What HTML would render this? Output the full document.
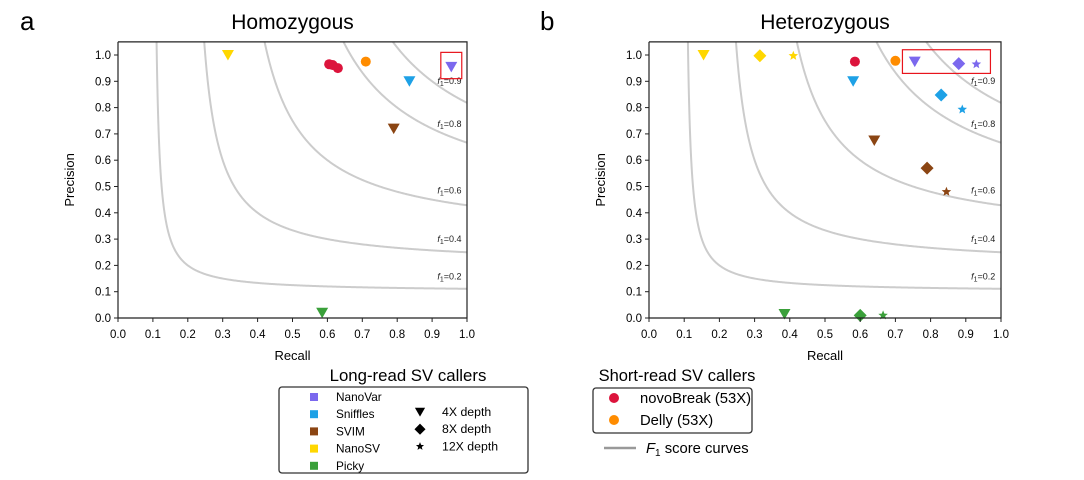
<!DOCTYPE html>
<html><head><meta charset="utf-8"><style>
body{margin:0;background:#fff;}
svg{display:block;font-family:"Liberation Sans",sans-serif;}
</style></head><body>
<svg id="s" width="1084" height="480" viewBox="0 0 1084 480"></svg>
<script>
const f1Levels=[0.2,0.4,0.6,0.8,0.9];
const ticks=[0.0,0.1,0.2,0.3,0.4,0.5,0.6,0.7,0.8,0.9,1.0];
const callerNames=["NanoVar","Sniffles","SVIM","NanoSV","Picky","novoBreak","Delly"];
const callerColors=["#7b68ee","#1ea1e6","#8b4513","#ffd700","#3aa03a","#dc143c","#ff8c00"];
// homozygous points: [callerIndex, marker, recall, precision]
const homCaller=[3,5,5,5,6,1,2,4,0];
const homMarker=["v","o","o","o","o","v","v","v","v"];
const homRecall=[0.315,0.605,0.615,0.63,0.71,0.835,0.79,0.585,0.955];
const homPrec=[1.0,0.965,0.962,0.95,0.975,0.9,0.72,0.02,0.955];
// heterozygous
const hetCaller=[3,3,3,5,6,0,0,0,1,1,1,2,2,2,4,4,4];
const hetMarker=["v","d","*","o","o","v","d","*","v","d","*","v","d","*","v","d","*"];
const hetRecall=[0.155,0.315,0.41,0.585,0.70,0.755,0.88,0.93,0.58,0.83,0.89,0.64,0.79,0.845,0.385,0.60,0.665];
const hetPrec=[1.0,0.997,0.997,0.975,0.978,0.975,0.967,0.965,0.9,0.848,0.793,0.675,0.57,0.48,0.015,0.01,0.01];

const NS="http://www.w3.org/2000/svg";
const svg=document.getElementById('s');
function mk(tag,attrs,parent,name){const e=document.createElementNS(NS,tag);for(const k in attrs)e.setAttribute(k,attrs[k]);


(parent||svg).appendChild(e);return e;}
function txt(s,attrs,parent,name){const e=mk('text',attrs,parent,name);e.textContent=s;return e;}
function marker(g,type,cx,cy,col,name,sc){sc=sc||1;
  if(type==="o")return mk('circle',{cx:cx,cy:cy,r:5*sc,fill:col},g,name);
  if(type==="v")return mk('polygon',{points:`${cx-6*sc},${cy-5*sc} ${cx+6*sc},${cy-5*sc} ${cx},${cy+5.5*sc}`,fill:col},g,name);
  if(type==="d")return mk('polygon',{points:`${cx},${cy-6.5*sc} ${cx+6.5*sc},${cy} ${cx},${cy+6.5*sc} ${cx-6.5*sc},${cy}`,fill:col},g,name);
  let p=[];for(let i=0;i<10;i++){const a=-Math.PI/2+i*Math.PI/5,r=(i%2?2.2:5)*sc;p.push((cx+r*Math.cos(a)).toFixed(2)+","+(cy+r*Math.sin(a)).toFixed(2));}
  return mk('polygon',{points:p.join(" "),fill:col},g,name);
}
function panel(x0,x1,letter,letterX,title,cal,mar,rec,pre,box,id){
  const y0=318,y1=55;
  const X=v=>x0+(x1-x0)*v, Y=v=>y0+(y1-y0)*v;
  const g=mk('g',{},svg,id+'-panel');
  txt(letter,{x:letterX,y:30,'font-size':26},g,id+'-panel-letter');
  txt(title,{x:(x0+x1)/2,y:29,'font-size':21,'text-anchor':'middle'},g,id+'-title');
  const clip=mk('clipPath',{id:'c'+id},g,id+'-clip');
  mk('rect',{x:x0,y:Y(1.05),width:x1-x0,height:y0-Y(1.05)},clip,id+'-clip-rect');
  const cg=mk('g',{'clip-path':`url(#c${id})`},g,id+'-curves');
  f1Levels.forEach(f=>{let d="";for(let i=0;i<=400;i++){const r=f/2+0.0005+(1-f/2)*Math.pow(i/400,1.6);const p=f*r/(2*r-f);if(p>1.2)continue;d+=(d?"L":"M")+X(r).toFixed(2)+","+Y(p).toFixed(2);}
    mk('path',{d:d,fill:'none',stroke:'#cccccc','stroke-width':2},cg,'f1-curve-'+f);
    const ly=Y(f*0.95/(1.9-f)+0.035);
    const t=txt('',{x:X(0.915),y:ly,'font-size':9,fill:'#222'},g,'f1-label-'+f);
    t.innerHTML=`<tspan font-style="italic">f</tspan><tspan font-size="7" dy="2">1</tspan><tspan dy="-2">=${f}</tspan>`;
  });
  mk('rect',{x:X(box[0]),y:Y(box[3]),width:X(box[1])-X(box[0]),height:Y(box[2])-Y(box[3]),fill:'none',stroke:'#e8141c','stroke-width':1.2},g,id+'-highlight-box');
  for(let i=0;i<rec.length;i++)marker(g,mar[i],X(rec[i]),Y(pre[i]),callerColors[cal[i]],id+'-point-'+callerNames[cal[i]].toLowerCase());
  mk('path',{d:`M${x0},${Y(1.05)}V${y0}H${x1}V${Y(1.05)}H${x0}`,fill:'none',stroke:'#222','stroke-width':1.2},g,id+'-axes-frame');
  ticks.forEach(t=>{
    mk('line',{x1:X(t),x2:X(t),y1:y0,y2:y0+4,stroke:'#222'},g,id+'-x-tick');
    txt(t.toFixed(1),{x:X(t),y:338,'font-size':11.5,'text-anchor':'middle'},g,id+'-x-tick-label');
    mk('line',{x1:x0-4,x2:x0,y1:Y(t),y2:Y(t),stroke:'#222'},g,id+'-y-tick');
    txt(t.toFixed(1),{x:x0-7,y:Y(t)+4,'font-size':11.5,'text-anchor':'end'},g,id+'-y-tick-label');
  });
  txt('Recall',{x:(x0+x1)/2,y:360,'font-size':13,'text-anchor':'middle'},g,id+'-x-axis-title');
  txt('Precision',{x:0,y:0,'font-size':13,'text-anchor':'middle',transform:`translate(${x0-44},${(y0+Y(1.05))/2}) rotate(-90)`},g,id+'-y-axis-title');
}
panel(118,467,'a',20,'Homozygous',homCaller,homMarker,homRecall,homPrec,[0.925,0.985,0.91,1.01],'hom');
panel(649,1001,'b',540,'Heterozygous',hetCaller,hetMarker,hetRecall,hetPrec,[0.72,0.97,0.93,1.02],'het');

const lg=mk('g',{},svg,'long-read-legend');
txt('Long-read SV callers',{x:408,y:381,'font-size':16.8,'text-anchor':'middle'},lg,'long-read-legend-title');
mk('rect',{x:279,y:387,width:249,height:86,rx:3,fill:'#fff',stroke:'#333','stroke-width':1.3},lg,'long-read-legend-box');
for(let i=0;i<5;i++){
  mk('rect',{x:310,y:393+i*17.2,width:8,height:8,fill:callerColors[i]},lg,'legend-swatch-'+callerNames[i].toLowerCase());
  txt(callerNames[i],{x:336,y:401+i*17.2,'font-size':11.8},lg,'legend-label-'+callerNames[i].toLowerCase());
}
const depths=[["v","4X depth"],["d","8X depth"],["*","12X depth"]];
depths.forEach((d,i)=>{marker(lg,d[0],420,412+i*17.2,'#000','legend-marker-'+d[1].replace(' ','-').toLowerCase(),0.85);
  txt(d[1],{x:442,y:416+i*17.2,'font-size':12.3},lg,'legend-label-'+d[1].replace(' ','-').toLowerCase());});
const sg=mk('g',{},svg,'short-read-legend');
txt('Short-read SV callers',{x:677,y:381,'font-size':16.5,'text-anchor':'middle'},sg,'short-read-legend-title');
mk('rect',{x:593,y:388,width:159,height:45,rx:3,fill:'#fff',stroke:'#333','stroke-width':1.3},sg,'short-read-legend-box');
mk('circle',{cx:614,cy:398,r:5,fill:callerColors[5]},sg,'legend-marker-novobreak');
txt('novoBreak (53X)',{x:640,y:403,'font-size':14.8},sg,'legend-label-novobreak');
mk('circle',{cx:614,cy:420,r:5,fill:callerColors[6]},sg,'legend-marker-delly');
txt('Delly (53X)',{x:640,y:425,'font-size':14.8},sg,'legend-label-delly');
mk('line',{x1:604,x2:636,y1:448,y2:448,stroke:'#999','stroke-width':2.5},sg,'legend-f1-line');
const ft=txt('',{x:646,y:453,'font-size':14.8},sg,'legend-f1-label');
ft.innerHTML='<tspan font-style="italic">F</tspan><tspan font-size="10" dy="3">1</tspan><tspan dy="-3"> score curves</tspan>';
</script>
</body></html>
